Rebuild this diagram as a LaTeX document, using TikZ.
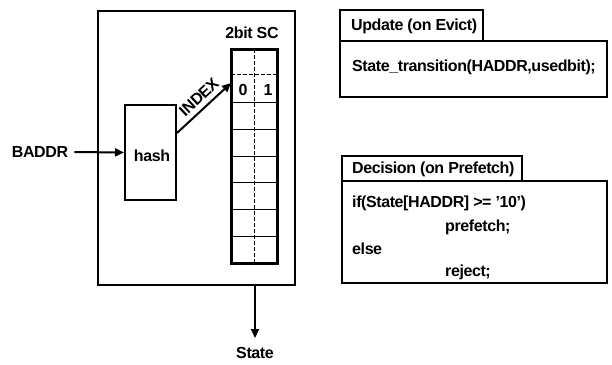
\documentclass[tikz,border=0pt]{standalone}
\usepackage{fontspec}
\setmainfont{Liberation Sans}[LetterSpace=-2.5]
\usetikzlibrary{arrows.meta,calc}
\begin{document}
\begin{tikzpicture}[x=1pt,y=-1pt,
  every node/.style={font=\fontsize{16}{19}\selectfont\bfseries, inner sep=0pt},
  box/.style={draw, line width=2.6pt, rectangle, inner sep=0pt},
  thinline/.style={line width=0.8pt},
  dline/.style={line width=0.8pt, dash pattern=on 4pt off 2pt},
  arr/.style={line width=2pt, -{Triangle[length=9pt,width=8pt]}},
  txt/.style={anchor=west}]
\useasboundingbox (0,0) rectangle (612,364);
% main block
\node[box, minimum width=197pt, minimum height=274pt] (main) at (196.5,148) {};
\node (sclabel) at (252,33) {2bit SC};
\node[box, line width=3pt, minimum width=46pt, minimum height=214pt] (sc) at (254,156) {};
\draw[dline] (254,49) -- (254,263);
\draw[dline] (231,74) -- (277,74);
\foreach \yy in {102,129,156,182,209,236}{\draw[thinline] (231,\yy) -- (277,\yy);}
\node (b0) at (243,90) {0};
\node (b1) at (268,90) {1};
\node[box, line width=2pt, minimum width=51pt, minimum height=95pt] (hash) at (150.5,152.5) {};
\node (hashlabel) at (152,156) {hash};
\node (baddr) at (40,152) {BADDR};
\draw[arr] ($(baddr.east)+(6,0)$) -- (hash.west);
\coordinate (iS) at (177,133);
\coordinate (iE) at (231,83);
\draw[arr] (iS) -- (iE);
\node[rotate=43] (index) at (199,97) {INDEX};
\coordinate (sS) at (255,285);
\node (state) at (255,353) {State};
\draw[arr] (sS) -- (255,338) coordinate (sE);
% update box
\node[box, minimum width=267pt, minimum height=56pt] (updbody) at (473.5,69) {};
\node[box, minimum width=143pt, minimum height=31pt] (updtab) at (411.5,25.5) {};
\node[txt] (updtitle) at (351,26) {Update (on Evict)};
\node[txt] (updcode) at (352,67) {State\_transition(HADDR,usedbit);};
% decision box
\node[box, minimum width=265pt, minimum height=102pt] (decbody) at (474.5,232) {};
\node[box, minimum width=180pt, minimum height=25pt] (dectab) at (432,168.5) {};
\node[txt] (dectitle) at (352,169) {Decision (on Prefetch)};
\node[txt] (c1) at (352,203) {if(State[HADDR] >= '10')};
\node[txt] (c2) at (445,227) {prefetch;};
\node[txt] (c3) at (352,249) {else};
\node[txt] (c4) at (445,272) {reject;};
\end{tikzpicture}
\end{document}
